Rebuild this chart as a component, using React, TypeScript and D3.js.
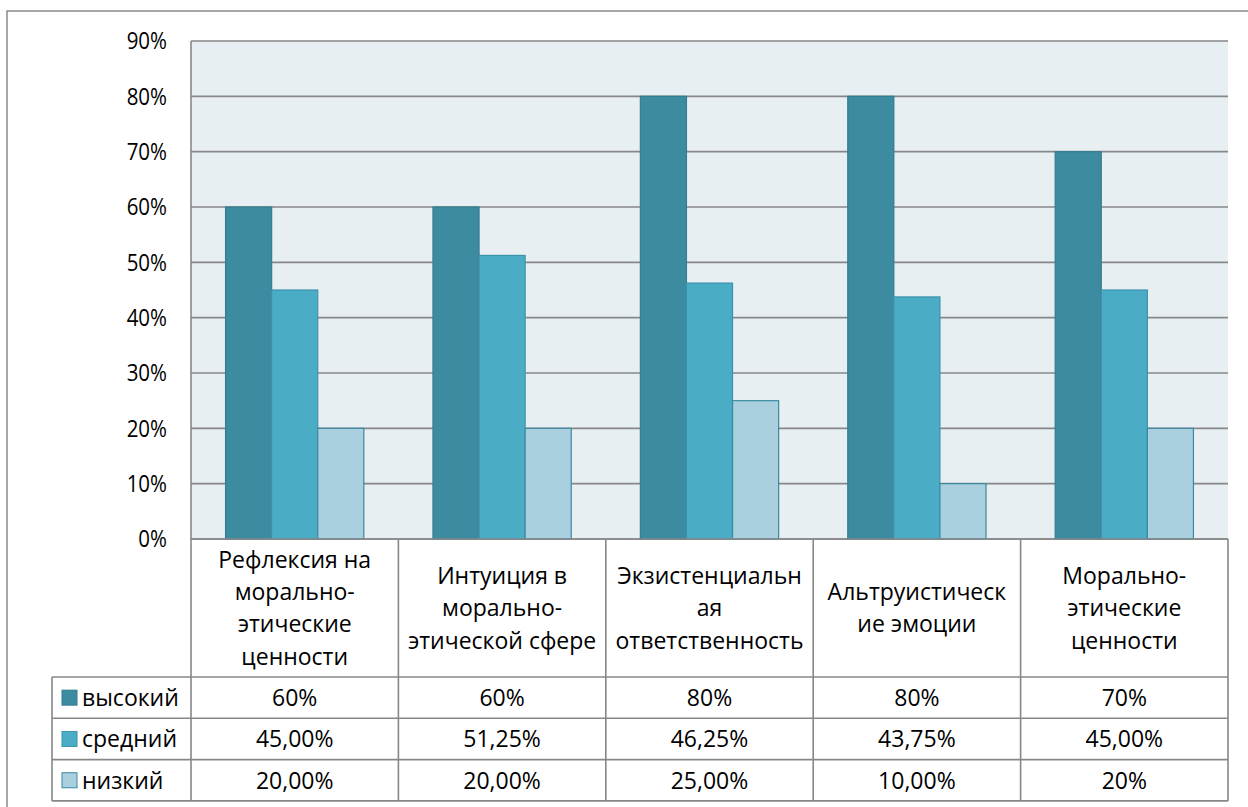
import React from "react";
import * as d3 from "d3";

// Categories, each label split into its wrapped lines
const categories: string[][] = [
  ["Рефлексия на", "морально-", "этические", "ценности"],
  ["Интуиция в", "морально-", "этической сфере"],
  ["Экзистенциальн", "ая", "ответственность"],
  ["Альтруистическ", "ие эмоции"],
  ["Морально-", "этические", "ценности"],
];

const seriesNames = ["высокий", "средний", "низкий"];
const high = [0.6, 0.6, 0.8, 0.8, 0.7];
const medium = [0.45, 0.5125, 0.4625, 0.4375, 0.45];
const low = [0.2, 0.2, 0.25, 0.1, 0.2];

// Table cell texts as printed
const highLabels = ["60%", "60%", "80%", "80%", "70%"];
const mediumLabels = ["45,00%", "51,25%", "46,25%", "43,75%", "45,00%"];
const lowLabels = ["20,00%", "20,00%", "25,00%", "10,00%", "20%"];

const yTicks = [0, 0.1, 0.2, 0.3, 0.4, 0.5, 0.6, 0.7, 0.8, 0.9];

const fills = ["#3c8ba1", "#4bacc6", "#aacfdf"];
const strokes = ["#347d91", "#3b93ab", "#3a8aa1"];

const W = 1248;
const H = 807;
const plotL = 191;
const plotR = 1228;
const plotT = 41;
const plotB = 539;
const headerB = 677;
const rowH = 41.3;
const legendL = 52;
const FONT = "'Open Sans', sans-serif";
const TEXT_SIZE = 23;

export default function App() {
  const series = [high, medium, low];
  const labels = [highLabels, mediumLabels, lowLabels];

  const x = d3
    .scaleBand<number>()
    .domain(d3.range(categories.length))
    .range([plotL, plotR])
    .paddingInner(0)
    .paddingOuter(0);
  const y = d3.scaleLinear().domain([0, 0.9]).range([plotB, plotT]);

  const group = x.bandwidth();
  const barW = group / 4.5; // gap width 150%
  const gap = barW * 0.75;

  const fmt = d3.format(".0%");
  const tableB = headerB + rowH * 3;
  const gridColor = "#878787";

  return (
    <svg
      width={W}
      height={H}
      style={{ position: "absolute", left: 0, top: 0, background: "#fff" }}
      fontFamily={FONT}
    >
      {/* outer frame */}
      <rect x={7} y={11} width={W + 20} height={H + 20} fill="#fff" stroke="#8a8a8a" strokeWidth={1.5} />

      {/* plot background */}
      <rect x={plotL} y={plotT} width={plotR - plotL} height={plotB - plotT} fill="#e8eff3" />

      {/* gridlines */}
      {yTicks.map((t) => (
        <line key={t} x1={plotL} x2={plotR} y1={y(t)} y2={y(t)} stroke={gridColor} strokeWidth={1.6} />
      ))}

      {/* y tick labels, slightly tall */}
      {yTicks.map((t) => (
        <text
          key={t}
          transform={`translate(167,${y(t)}) scale(1,1.15)`}
          dy="0.36em"
          textAnchor="end"
          fontSize={20.5}
          fill="#000"
        >
          {fmt(t)}
        </text>
      ))}

      {/* bars */}
      {series.map((vals, si) =>
        vals.map((v, ci) => (
          <rect
            key={`${si}-${ci}`}
            x={(x(ci) as number) + gap + si * barW}
            y={y(v)}
            width={barW}
            height={y(0) - y(v)}
            fill={fills[si]}
            stroke={strokes[si]}
            strokeWidth={1.2}
          />
        ))
      )}

      {/* left axis */}
      <line x1={plotL} x2={plotL} y1={plotT} y2={plotB} stroke={gridColor} strokeWidth={1.6} />

      {/* data table */}
      <g stroke={gridColor} strokeWidth={1.6} fill="none">
        {d3.range(categories.length + 1).map((i) => {
          const xx = i === categories.length ? plotR : (x(i) as number);
          return <line key={i} x1={xx} x2={xx} y1={plotB} y2={tableB} />;
        })}
        {[0, 1, 2, 3].map((r) => (
          <line key={r} x1={legendL} x2={plotR} y1={headerB + r * rowH} y2={headerB + r * rowH} />
        ))}
        <line x1={legendL} x2={legendL} y1={headerB} y2={tableB} />
        <line x1={plotL} x2={plotR} y1={plotB} y2={plotB} />
      </g>

      {/* category headers */}
      {categories.map((lines, ci) => {
        const cx = (x(ci) as number) + group / 2;
        const lh = 32.3;
        const mid = (plotB + headerB) / 2;
        const start = mid - ((lines.length - 1) * lh) / 2;
        return (
          <text key={ci} textAnchor="middle" fontSize={TEXT_SIZE} fill="#000">
            {lines.map((l, li) => (
              <tspan key={li} x={cx} y={start + li * lh} dy="0.36em">
                {l}
              </tspan>
            ))}
          </text>
        );
      })}

      {/* table rows */}
      {series.map((_, si) => {
        const cy = headerB + si * rowH + rowH / 2;
        return (
          <g key={si}>
            <rect x={62} y={cy - 7.5} width={15} height={15} fill={fills[si]} stroke={strokes[si]} strokeWidth={1} />
            <text x={82} y={cy} dy="0.36em" fontSize={TEXT_SIZE} fill="#000">
              {seriesNames[si]}
            </text>
            {labels[si].map((lab, ci) => (
              <text
                key={ci}
                x={(x(ci) as number) + group / 2}
                y={cy}
                dy="0.36em"
                textAnchor="middle"
                fontSize={TEXT_SIZE}
                fill="#000"
              >
                {lab}
              </text>
            ))}
          </g>
        );
      })}
    </svg>
  );
}
